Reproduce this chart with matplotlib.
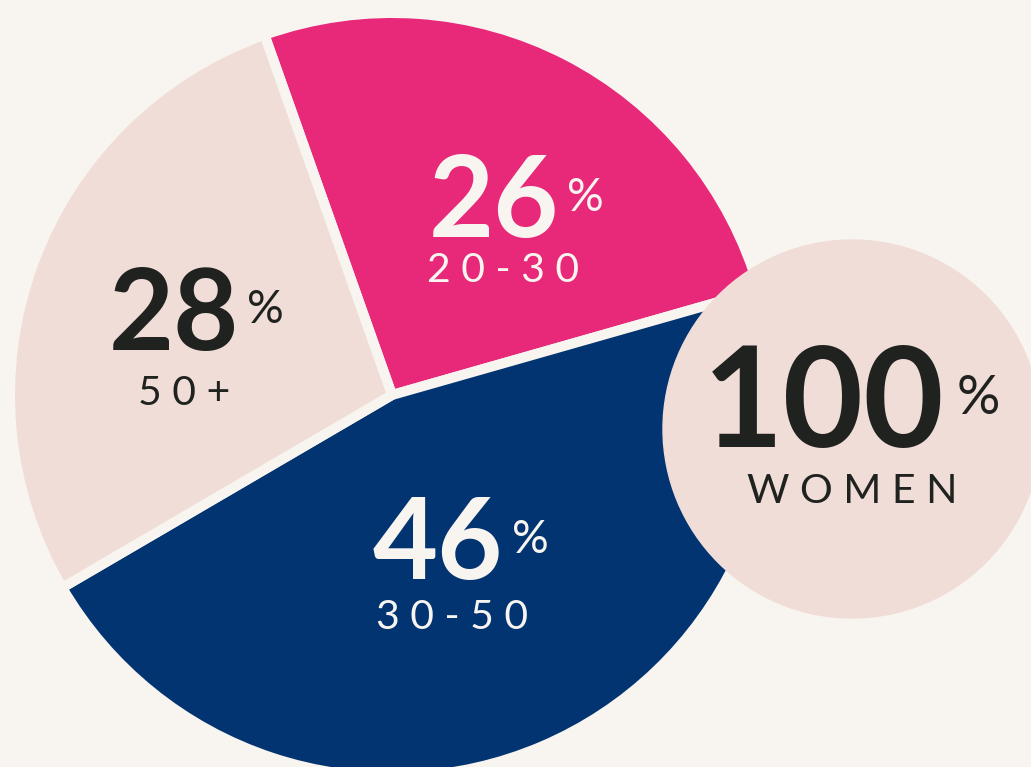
import matplotlib
matplotlib.use("Agg")
import matplotlib.pyplot as plt
from matplotlib.patches import Circle

# data
groups = ["20-30", "30-50", "50+"]
shares = [26, 46, 28]
total_label = "100"
total_text = "WOMEN"

# colours
bg = "#F8F5F0"
pink = "#E8297A"
navy = "#023472"
blush = "#F1DDD7"
dark = "#20221F"
slice_colors = [pink, navy, blush]
number_colors = [bg, bg, dark]

W, H = 1031, 767

fig = plt.figure(figsize=(W / 100, H / 100), dpi=100, facecolor=bg)
ax = fig.add_axes([0, 0, 1, 1])
ax.set_facecolor(bg)

# pie, gaps drawn as background-coloured edges
ax.pie(shares, colors=slice_colors, startangle=109.5, counterclock=False,
       center=(392, H - 395), radius=382,
       wedgeprops=dict(edgecolor=bg, linewidth=7.2, joinstyle="miter"))
ax.set_xlim(0, W)
ax.set_ylim(0, H)
ax.set_aspect("equal")
ax.axis("off")

# the "100% women" bubble
ax.add_patch(Circle((852, H - 429), 189, color=blush, zorder=3))


def spaced(s):
    return " ".join(s)


# label positions (pixel coords, y from top): number left/baseline, % left/baseline, label centre/baseline
pos = {
    "20-30": ((429, 237), (567, 211), (503, 282)),
    "30-50": ((373, 579), (512, 553), (452, 629)),
    "50+": ((109, 350), (247, 323), (184, 405)),
}

for g, v, c in zip(groups, shares, number_colors):
    (nx, ny), (px, py), (lx, ly) = pos[g]
    ax.text(nx, H - ny, str(v), fontsize=81, fontfamily="Lato", fontweight="bold",
            color=c, ha="left", va="baseline", zorder=5)
    ax.text(px, H - py, "%", fontsize=33, fontfamily="Lato", color=c,
            ha="left", va="baseline", zorder=5)
    ax.text(lx, H - ly, spaced(g), fontsize=29.5, fontfamily="Lato", color=c,
            ha="center", va="baseline", zorder=5)

ax.text(703, H - 447, total_label, fontsize=100, fontfamily="Lato", fontweight="bold",
        color=dark, ha="left", va="baseline", zorder=5)
ax.text(957, H - 414, "%", fontsize=39, fontfamily="Lato", color=dark,
        ha="left", va="baseline", zorder=5)
ax.text(852, H - 503, spaced(total_text), fontsize=29.5, fontfamily="Lato", color=dark,
        ha="center", va="baseline", zorder=5)

fig.savefig("out.png", dpi=100, facecolor=bg)
